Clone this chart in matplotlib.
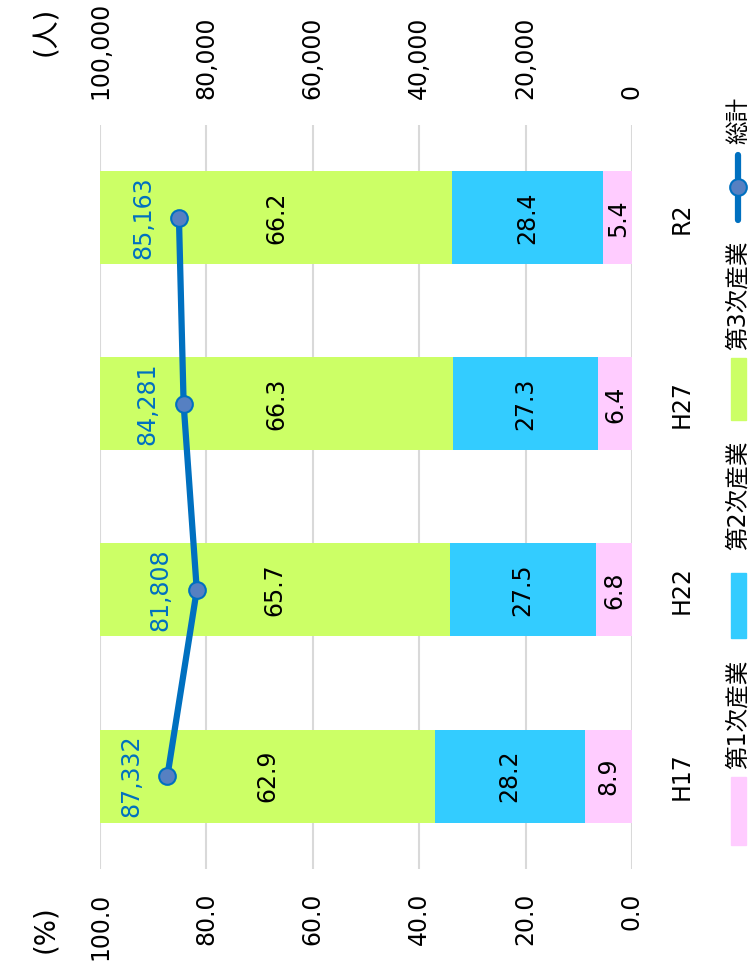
import matplotlib
matplotlib.use("Agg")
import matplotlib.pyplot as plt
from matplotlib.patches import Rectangle
from matplotlib.lines import Line2D
from matplotlib.ticker import FuncFormatter

plt.rcParams['font.family'] = ['DejaVu Sans', 'Noto Sans CJK JP']

# データ
years = ["H17", "H22", "H27", "R2"]
primary = [8.9, 6.8, 6.4, 5.4]
secondary = [28.2, 27.5, 27.3, 28.4]
tertiary = [62.9, 65.7, 66.3, 66.2]
totals = [87332, 81808, 84281, 85163]
pct_ticks = [0, 20, 40, 60, 80, 100]
people_ticks = [0, 20000, 40000, 60000, 80000, 100000]

names = ["第1次産業", "第2次産業", "第3次産業"]
colors = ["#FFCCFF", "#33CCFF", "#CCFF66"]
line_name = "総計"
line_color = "#0070C0"
marker_color = "#5680C2"

FS = 17
W, H = 754, 971
fig = plt.figure(figsize=(W / 100, H / 100), dpi=100)
ax = fig.add_axes([100 / W, 1 - 869 / H, 532 / W, 744 / H])

pos = list(range(len(years)))
left = [0.0] * len(years)
for vals, c in zip([primary, secondary, tertiary], colors):
    ax.barh(pos, vals, left=left, height=0.5, color=c, zorder=2)
    for p, l, v in zip(pos, left, vals):
        ax.text(l + v / 2, p, f"{v:.1f}", rotation=90, ha='center', va='center',
                fontsize=FS, color='black', zorder=3)
    left = [l + v for l, v in zip(left, vals)]

ax.set_xlim(100, 0)
ax.set_ylim(-0.5, 3.5)
ax.set_xticks(pct_ticks)
ax.xaxis.set_major_formatter(FuncFormatter(lambda v, _: f"{v:.1f}"))
ax.xaxis.grid(True, color='#d9d9d9', lw=1.5)
ax.set_axisbelow(True)
ax.tick_params(axis='x', length=0, pad=17, labelsize=FS, labelrotation=90)

ax.yaxis.tick_right()
ax.set_yticks(pos)
ax.set_yticklabels(years)
ax.tick_params(axis='y', length=0, pad=27, labelsize=FS, labelrotation=90)
for lbl in ax.get_yticklabels():
    lbl.set_va('center')
for s in ax.spines.values():
    s.set_visible(False)

# 総計 (人)
ax2 = ax.twiny()
ax2.set_xlim(100000, 0)
ax2.set_xticks(people_ticks)
ax2.xaxis.set_major_formatter(FuncFormatter(lambda v, _: f"{int(v):,}"))
ax2.tick_params(axis='x', length=0, pad=19, labelsize=FS, labelrotation=90)
for s in ax2.spines.values():
    s.set_visible(False)
ax2.plot(totals, pos, color=line_color, lw=4.5, marker='o', ms=12,
         mfc=marker_color, mec=line_color, mew=1.5, zorder=5)
for t, p in zip(totals, pos):
    ax2.annotate(f"{t:,}", (t, p), xytext=(-36, 0), textcoords='offset pixels',
                 rotation=90, ha='center', va='center', color=line_color, fontsize=FS)

fig.text(45 / W, 1 - 929 / H, "(%)", rotation=90, ha='center', va='center', fontsize=20)
fig.text(45 / W, 1 - 31 / H, "(人)", rotation=90, ha='center', va='center', fontsize=20)

# 凡例 (回転)
lx = 738
patch_spans = [(777, 845), (573, 638), (358, 420)]
text_centers = [714, 495, 295]
for (y0, y1), c, n, tc in zip(patch_spans, colors, names, text_centers):
    fig.patches.append(Rectangle((731 / W, 1 - y1 / H), 15 / W, (y1 - y0) / H,
                                 transform=fig.transFigure, color=c))
    fig.text(lx / W, 1 - tc / H, n, rotation=90, ha='center', va='center', fontsize=FS)
fig.lines.append(Line2D([lx / W, lx / W], [1 - 155 / H, 1 - 220 / H], transform=fig.transFigure,
                        color=line_color, lw=4.5, solid_capstyle='round'))
fig.lines.append(Line2D([lx / W], [1 - 187 / H], transform=fig.transFigure, marker='o', ms=12,
                        mfc=marker_color, mec=line_color, mew=1.5, ls='none'))
fig.text(lx / W, 1 - 120 / H, line_name, rotation=90, ha='center', va='center', fontsize=FS)

fig.savefig("out.png", dpi=100)
